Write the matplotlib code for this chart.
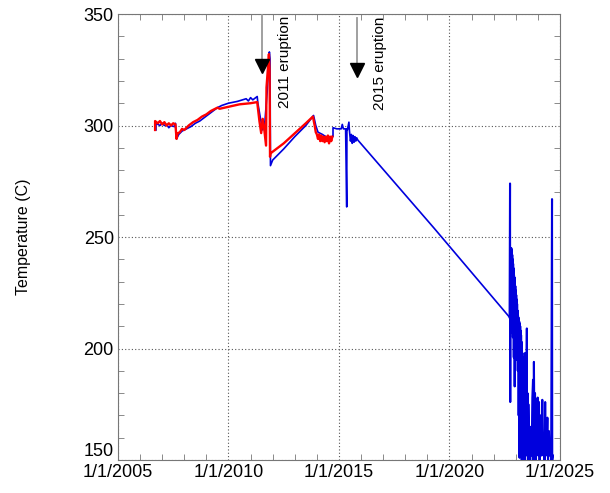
import matplotlib
matplotlib.use("Agg")
import matplotlib.pyplot as plt
from matplotlib.ticker import MultipleLocator

plt.rcParams['font.family'] = ['Liberation Sans', 'DejaVu Sans']

# logger 1 (blue), decimal years and degrees C
blue_year = [2006.72, 2006.72, 2006.9, 2007.0, 2007.1, 2007.2, 2007.3, 2007.4, 2007.55,
             2007.6, 2007.65, 2007.75, 2007.9, 2008.1, 2008.3, 2008.5, 2008.7, 2008.9,
             2009.1, 2009.3, 2009.5, 2009.7, 2010.0, 2010.4, 2010.8, 2010.9, 2011.0,
             2011.1, 2011.3, 2011.33, 2011.45, 2011.55, 2011.65, 2011.75, 2011.85,
             2011.88, 2011.9, 2012.0, 2012.5, 2013.0, 2013.5, 2013.85, 2013.95, 2014.05,
             2014.15, 2014.25, 2014.4, 2014.55, 2014.7, 2014.73, 2014.73, 2014.9, 2015.1,
             2015.15, 2015.2, 2015.3, 2015.35, 2015.36, 2015.38, 2015.45, 2015.47,
             2015.52, 2015.56, 2015.6, 2015.64, 2015.68, 2015.72, 2015.76, 2015.8,
             2015.85, 2019.3, 2022.72]
blue_temp = [298, 301, 300, 301, 300, 300.5, 299, 300, 299.5,
             301, 294, 296, 297.5, 298.5, 299.5, 301, 302, 303.5,
             305, 306.5, 308, 309, 310, 310.8, 312, 311, 312.5,
             311.5, 313, 310, 303, 298, 302, 315, 333,
             330, 282, 284.5, 289.5, 295, 300, 304.5, 300, 297,
             296.5, 296, 295, 294.5, 295, 295, 299, 298.5, 298.5,
             300.5, 298.5, 298.5, 263.5, 298.5, 298, 301.5, 298,
             293, 296, 292, 295.5, 292.5, 295, 293, 294.5,
             293.5, 254, 214]

# after the 2022 restart the logger readings scatter strongly
noisy_year = [2022.72, 2022.74, 2022.75, 2022.76, 2022.77, 2022.78, 2022.79, 2022.80,
              2022.81, 2022.82, 2022.83, 2022.84, 2022.85, 2022.86, 2022.87, 2022.88,
              2022.89, 2022.90, 2022.91, 2022.92, 2022.93, 2022.94, 2022.95, 2022.96,
              2022.97, 2022.98, 2022.99, 2023.00, 2023.01, 2023.02, 2023.03, 2023.04,
              2023.05, 2023.06, 2023.07, 2023.08, 2023.09, 2023.10, 2023.11, 2023.12,
              2023.13, 2023.14, 2023.15, 2023.16, 2023.17, 2023.18, 2023.19, 2023.20,
              2023.21, 2023.22, 2023.23, 2023.24, 2023.25, 2023.26, 2023.27, 2023.28,
              2023.29, 2023.30, 2023.31, 2023.32, 2023.33, 2023.34, 2023.35, 2023.36,
              2023.37, 2023.38, 2023.40, 2023.42, 2023.44, 2023.46, 2023.48, 2023.50,
              2023.51, 2023.53, 2023.55, 2023.57, 2023.60, 2023.63, 2023.65, 2023.68,
              2023.72, 2023.75, 2023.78, 2023.80, 2023.82, 2023.85, 2023.87, 2023.90,
              2023.93, 2023.96, 2023.99, 2024.02, 2024.05, 2024.08, 2024.11, 2024.14,
              2024.17, 2024.20, 2024.23, 2024.26, 2024.30, 2024.33, 2024.36, 2024.40,
              2024.43, 2024.46, 2024.50, 2024.53, 2024.56, 2024.60, 2024.64, 2024.65,
              2024.68]
noisy_temp = [214, 274, 176, 245, 212, 245, 208, 245,
              215, 244, 207, 242, 218, 240, 205, 238,
              212, 236, 196, 233, 210, 232, 183, 230,
              212, 228, 205, 226, 200, 224, 208, 222,
              195, 220, 200, 217, 190, 215, 195, 214,
              170, 213, 185, 212, 151, 211, 160, 210,
              175, 208, 160, 206, 165, 203, 150, 200,
              170, 198, 155, 196, 160, 194, 150, 190,
              165, 186, 150, 198, 155, 190, 170, 209,
              152, 180, 148, 175, 160, 165, 148, 160,
              152, 178, 186, 150, 194, 155, 180, 150,
              177, 160, 178, 152, 176, 150, 170, 165,
              152, 177, 155, 160, 150, 176, 152, 158,
              169, 150, 163, 152, 158, 150, 267, 150,
              152]

# logger 2 (red)
red_year = [2006.68, 2006.68, 2006.8, 2006.9, 2007.0, 2007.1, 2007.2, 2007.3, 2007.4,
            2007.5, 2007.6, 2007.65, 2007.7, 2007.8, 2007.9, 2008.0, 2008.2, 2008.4,
            2008.6, 2008.8, 2009.0, 2009.2, 2009.4, 2009.5, 2009.6, 2010.5, 2011.0,
            2011.3, 2011.4, 2011.48, 2011.55, 2011.6, 2011.7, 2011.72, 2011.78, 2011.83,
            2011.86, 2011.88, 2011.9, 2012.5, 2013.0, 2013.5, 2013.82, 2013.9, 2013.95,
            2014.0, 2014.05, 2014.1, 2014.15, 2014.2, 2014.25, 2014.3, 2014.35, 2014.4,
            2014.45, 2014.5, 2014.55, 2014.6, 2014.65, 2014.7]
red_temp = [298, 302, 301, 302, 300.5, 301.5, 300, 301, 300,
            301, 300.5, 294, 296.5, 297, 298.5, 298, 300, 301.5,
            302.5, 304, 305, 306.5, 307.5, 308, 307.5, 309.5, 310,
            310.5, 302, 296.6, 303, 300, 291, 317, 325, 332,
            325, 286, 287.5, 292, 296.5, 301, 304, 300, 297,
            296, 294, 296, 293, 295.5, 293, 295, 292.5, 295,
            293, 295.5, 292, 295, 293, 295]

year_ticks = [2005, 2010, 2015, 2020, 2025]
year_labels = ['1/1/2005', '1/1/2010', '1/1/2015', '1/1/2020', '1/1/2025']

# eruption date, top of arrow shaft, arrowhead centre, label
eruptions = [(2011.5, 350, 326.7, '2011 eruption'),
             (2015.8, 348, 325.0, '2015 eruption')]

fig = plt.figure(figsize=(6.1, 4.93), dpi=100)
ax = fig.add_axes([0.1934, 0.0669, 0.7246, 0.9047])

ax.plot(blue_year, blue_temp, color='#0000dd', lw=1.2, zorder=3)
ax.plot(noisy_year, noisy_temp, color='#0000dd', lw=1.5, zorder=3)
ax.plot(red_year, red_temp, color='#ff0000', lw=1.7, zorder=4)

for yr, top, head, label in eruptions:
    ax.plot([yr, yr], [top, head + 2], color='#999999', lw=1.3, zorder=5)
    ax.plot([yr], [head], marker='v', color='black', ms=10, zorder=6)
    ax.text(yr + 1.05, 349, label, rotation=90, ha='center', va='top',
            fontsize=11, zorder=6)

ax.set_xlim(2005, 2025)
ax.set_ylim(150, 350)
ax.set_xticks(year_ticks)
ax.set_xticklabels(year_labels)
ax.set_yticks([150, 200, 250, 300, 350])
ax.xaxis.set_minor_locator(MultipleLocator(1))
ax.yaxis.set_minor_locator(MultipleLocator(10))

ax.grid(True, which='major', ls=(0, (1, 2)), color='#555555', lw=0.8)
ax.tick_params(which='both', direction='in', top=True, right=True,
               color='#777777', labelsize=13, pad=3)
ax.tick_params(which='major', length=0)
ax.tick_params(which='minor', length=4.5)
for sp in ax.spines.values():
    sp.set_color('#777777')

# lift the bottom y label clear of the date labels
ax.get_yticklabels()[0].set_va('bottom')

ax.set_ylabel('Temperature (C)', fontsize=11.5, labelpad=38)

fig.savefig('out.png', dpi=100)
